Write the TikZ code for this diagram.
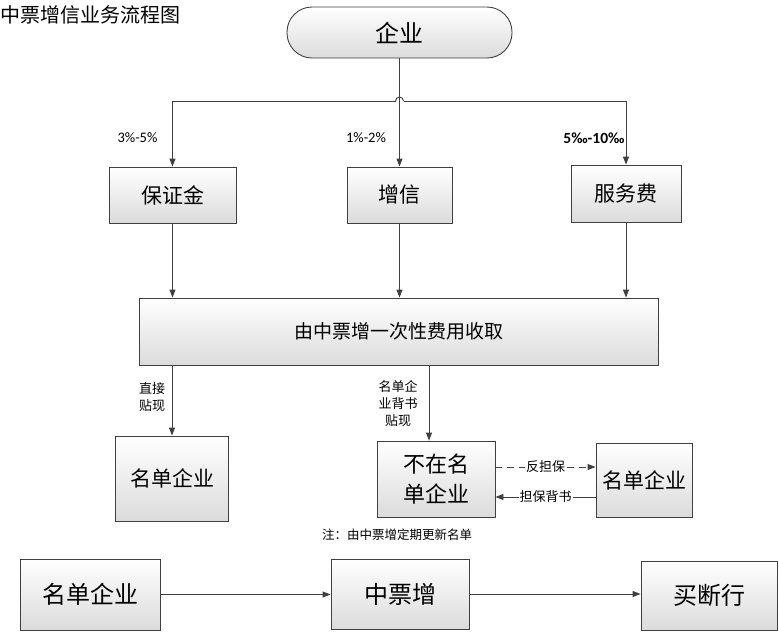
\documentclass[tikz,border=0pt]{standalone}
\usepackage{fontspec}
\setmainfont{Noto Sans CJK SC}
\newfontfamily\latfont{Carlito}
\usetikzlibrary{arrows.meta,positioning}
\definecolor{linegray}{rgb}{0.25,0.25,0.25}
\tikzset{
  box/.style={draw=linegray, line width=0.9pt, top color=white, bottom color=black!14, inner sep=0pt, align=center},
  arr/.style={draw=linegray, line width=0.9pt, -{Triangle[length=8pt,width=6pt]}},
  ln/.style={draw=linegray, line width=0.9pt},
  lbl/.style={font=\fontsize{13}{17}\selectfont, align=center, inner sep=1pt},
  pct/.style={font=\latfont\fontsize{14.5}{17}\selectfont, inner sep=0pt},
}

\begin{document}
\begin{tikzpicture}[x=1pt,y=-1pt]

\fill[white] (0,0) rectangle (779,633);
\useasboundingbox (0,0) rectangle (779,633);

\node[anchor=west, inner sep=0pt, font=\fontsize{20}{24}\selectfont] (title) at (0,15) {中票增信业务流程图};

% top part
\node[box, rounded corners=25pt, minimum width=225pt, minimum height=51pt, font=\fontsize{24}{28}\selectfont] (qiye) at (399.5,32.5) {企业};
\node[box, minimum width=127pt, minimum height=56pt, font=\fontsize{21}{25}\selectfont] (bzj) at (172.5,195) {保证金};
\node[box, minimum width=105pt, minimum height=56pt, font=\fontsize{21}{25}\selectfont] (zx) at (399.5,195) {增信};
\node[box, minimum width=110pt, minimum height=57pt, font=\fontsize{21}{25}\selectfont] (fwf) at (626,193.5) {服务费};
\node[box, minimum width=519pt, minimum height=67pt, font=\fontsize{19}{23}\selectfont] (big) at (398.5,331.5) {由中票增一次性费用收取};

\coordinate (hopl) at (395.5,101);
\coordinate (hopr) at (403.5,101);
\draw[ln] (hopl) arc[start angle=180, end angle=0, radius=4pt];
\draw[arr] (hopl) -| (bzj.north);
\draw[arr] (hopr) -| (fwf.north);
\draw[arr] (qiye.south) -- (zx.north);

\node[pct] (p1) at (137.5,138) {3\%-5\%};
\node[pct] (p2) at (366,138) {1\%-2\%};
\node[pct, font=\latfont\bfseries\fontsize{15.5}{18}\selectfont] (p3) at (594,138) {5‰-10‰};

\draw[arr] (bzj.south) -- (bzj.south |- big.north);
\draw[arr] (zx.south) -- (zx.south |- big.north);
\draw[arr] (fwf.south) -- (fwf.south |- big.north);

% lower part
\node[box, minimum width=113pt, minimum height=85pt, font=\fontsize{21}{25}\selectfont] (mdl) at (172,478.5) {名单企业};
\node[box, minimum width=118pt, minimum height=76pt, font=\fontsize{22}{30}\selectfont] (bzm) at (436,479) {不在名\\单企业};
\node[box, minimum width=96pt, minimum height=74pt, font=\fontsize{21}{25}\selectfont] (mdr) at (644,480) {名单企业};

\draw[arr] (big.south -| mdl.north) -- (mdl.north);
\draw[arr] ([xshift=-7pt]bzm.north |- big.south) -- ([xshift=-7pt]bzm.north);
\node[lbl] (zj) at (152,397) {直接\\贴现};
\node[lbl] (bs) at (398,404) {名单企\\业背书\\贴现};

\draw[arr, dash pattern=on 7pt off 5pt] ([yshift=12pt]bzm.east) -- node[lbl, fill=white] (fdb) {反担保} ([yshift=12pt]bzm.east -| mdr.west);
\draw[arr] ([yshift=-18pt]bzm.east -| mdr.west) -- node[lbl, fill=white] (dbbs) {担保背书} ([yshift=-18pt]bzm.east);

\node[font=\fontsize{12.5}{15}\selectfont] (note) at (397,535) {注：由中票增定期更新名单};

% bottom row
\node[box, minimum width=140pt, minimum height=71pt, font=\fontsize{24}{28}\selectfont] (b1) at (90,594.5) {名单企业};
\node[box, minimum width=138pt, minimum height=70pt, font=\fontsize{24}{28}\selectfont] (b2) at (400,594) {中票增};
\node[box, minimum width=136pt, minimum height=69pt, font=\fontsize{24}{28}\selectfont] (b3) at (709,595.5) {买断行};
\draw[arr] (b1.east) -- (b1.east -| b2.west);
\draw[arr] (b2.east) -- (b2.east -| b3.west);

\end{tikzpicture}
\end{document}
